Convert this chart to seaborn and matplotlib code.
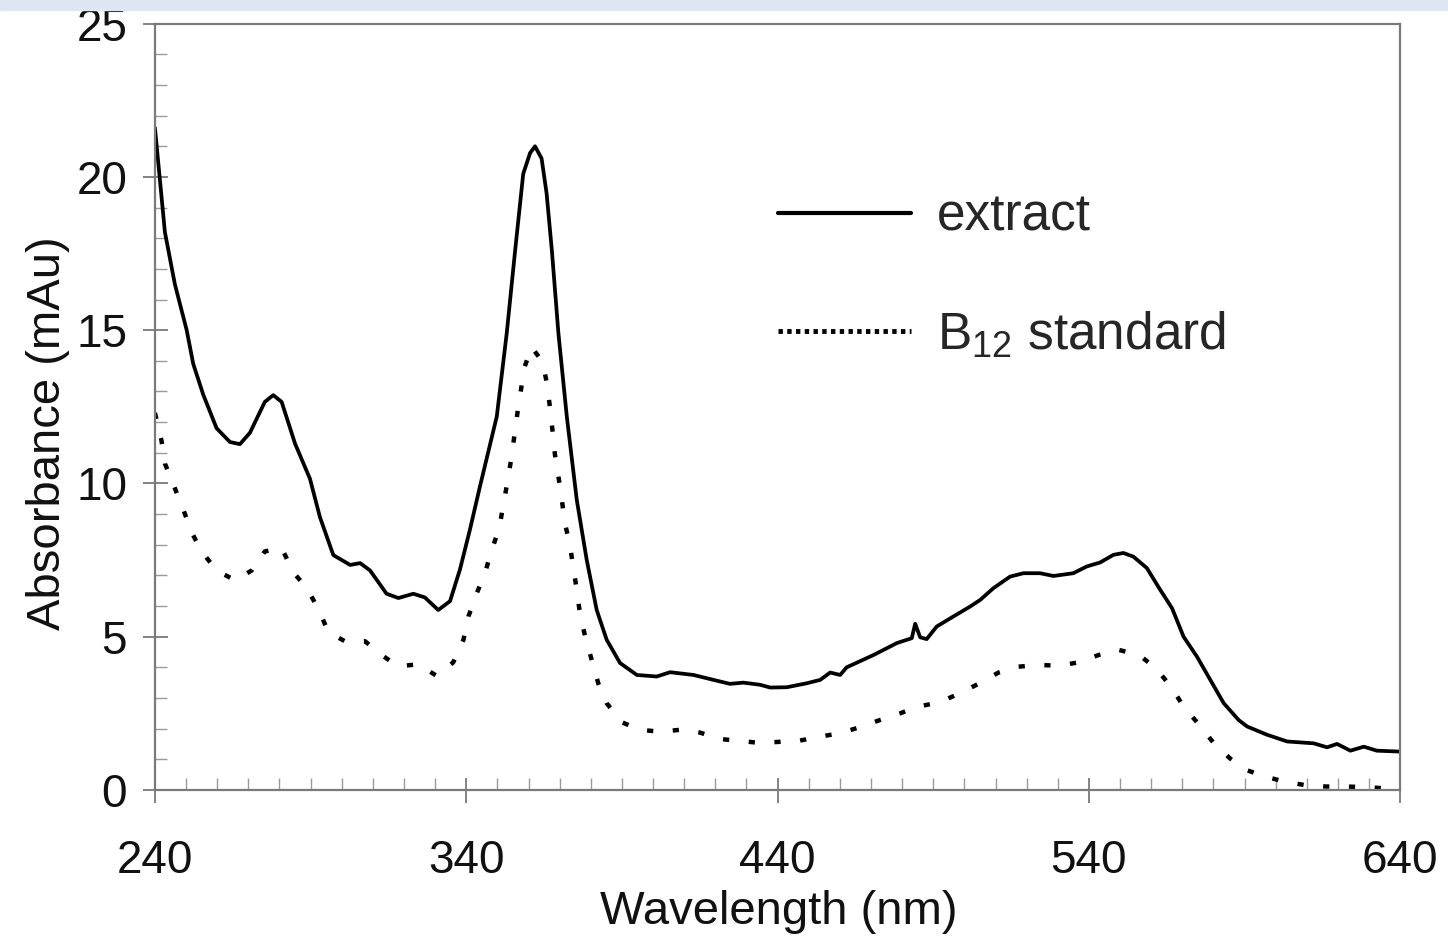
import numpy as np
import pandas as pd
import seaborn as sns
import matplotlib.pyplot as plt
from matplotlib.lines import Line2D
from matplotlib.patches import Rectangle
from matplotlib.ticker import MultipleLocator

extract_wl = [240.0, 243.2, 246.4, 250.2, 252.3, 255.5, 259.8, 264.1, 267.3, 270.5,
              275.3, 278.0, 280.7, 285.0, 289.8, 293.0, 297.3, 302.7, 305.9, 309.1,
              314.4, 318.2, 323.0, 326.7, 331.0, 334.8, 338.0, 341.2, 344.4, 349.8,
              353.0, 355.7, 358.3, 360.5, 362.1, 364.2, 365.8, 367.5, 369.6, 372.3,
              375.5, 378.7, 381.9, 385.1, 389.4, 394.8, 401.2, 405.5, 413.0, 419.4,
              424.7, 429.0, 434.4, 437.6, 443.0, 449.4, 453.7, 456.9, 460.1, 462.2,
              470.8, 478.3, 483.1, 484.2, 485.8, 487.9, 491.1, 496.5, 501.8, 505.1,
              509.3, 514.7, 519.0, 524.3, 528.6, 535.0, 539.3, 543.6, 547.9, 551.1,
              554.3, 558.6, 562.9, 566.7, 570.4, 574.7, 579.0, 583.3, 588.1, 590.8,
              597.2, 603.7, 612.2, 616.5, 619.7, 624.0, 628.3, 632.5, 640.0]
extract_abs = [21.6, 18.2, 16.5, 15.0, 13.9, 12.9, 11.8, 11.35, 11.28, 11.65,
               12.66, 12.88, 12.66, 11.3, 10.15, 8.9, 7.66, 7.34, 7.4, 7.16,
               6.4, 6.26, 6.4, 6.28, 5.87, 6.16, 7.2, 8.5, 9.9, 12.18,
               14.9, 17.6, 20.1, 20.78, 21.0, 20.6, 19.47, 17.6, 14.9, 12.18,
               9.46, 7.5, 5.87, 4.9, 4.14, 3.75, 3.7, 3.84, 3.75, 3.59,
               3.46, 3.5, 3.43, 3.34, 3.35, 3.48, 3.59, 3.83, 3.75, 4.0,
               4.4, 4.79, 4.95, 5.42, 4.98, 4.92, 5.33, 5.66, 5.98, 6.2,
               6.58, 6.96, 7.07, 7.07, 6.98, 7.07, 7.29, 7.42, 7.67, 7.73,
               7.61, 7.24, 6.53, 5.93, 5.0, 4.35, 3.59, 2.83, 2.28, 2.07,
               1.8, 1.58, 1.52, 1.39, 1.5, 1.28, 1.41, 1.28, 1.25]

b12_wl = [240.0, 242.1, 243.2, 245.9, 249.1, 251.8, 255.0, 259.8, 265.7, 271.1,
          275.3, 280.7, 284.4, 288.7, 292.5, 295.7, 301.0, 307.5, 312.8, 318.2,
          324.6, 330.5, 335.8, 339.1, 340.7, 343.4, 346.0, 348.2, 350.6, 351.9,
          353.2, 354.4, 355.4, 356.4, 357.5, 358.6, 361.0, 364.5, 366.0, 366.9,
          367.7, 368.5, 369.6, 370.7, 371.7, 373.3, 374.4, 375.5, 376.5, 378.2,
          380.3, 382.4, 385.1, 389.9, 395.8, 402.2, 408.7, 415.1, 421.5, 428.0,
          434.4, 440.8, 447.2, 453.7, 460.1, 466.5, 472.9, 479.4, 485.2, 491.7,
          498.1, 504.5, 511.0, 517.4, 523.8, 530.2, 536.6, 543.1, 549.5, 556.2,
          561.8, 566.7, 570.4, 575.2, 580.0, 585.3, 590.5, 596.9, 602.8, 609.2,
          616.2, 622.6, 629.0, 635.4, 640.0]
b12_abs = [12.3, 11.4, 10.65, 9.97, 9.15, 8.4, 7.78, 7.16, 6.84, 7.16,
           7.78, 7.9, 7.1, 6.6, 5.9, 5.15, 4.85, 4.85, 4.4, 4.03,
           4.1, 3.72, 4.16, 4.9, 5.66, 6.42, 7.07, 7.83, 8.54, 9.3,
           10.03, 10.77, 11.51, 12.27, 13.0, 13.76, 14.45, 13.96, 13.22, 12.46,
           11.73, 10.93, 10.23, 9.46, 8.7, 7.99, 7.24, 6.53, 5.77, 5.0,
           4.24, 3.48, 2.83, 2.21, 1.96, 1.9, 1.96, 1.87, 1.66, 1.6,
           1.53, 1.57, 1.61, 1.74, 1.85, 2.05, 2.28, 2.5, 2.72, 2.85,
           3.13, 3.46, 3.83, 4.02, 4.08, 4.05, 4.16, 4.4, 4.57, 4.4,
           3.94, 3.32, 2.72, 2.15, 1.54, 1.03, 0.65, 0.43, 0.27, 0.16,
           0.11, 0.11, 0.09, 0.05, 0.03]

x_ticks = [240, 340, 440, 540, 640]
y_ticks = [0, 5, 10, 15, 20, 25]

sns.set_style("ticks")
plt.rcParams['font.family'] = ['Liberation Sans', 'DejaVu Sans']
plt.rcParams['mathtext.fontset'] = 'custom'
plt.rcParams['mathtext.rm'] = 'Liberation Sans'

df_ext = pd.DataFrame({'wavelength': extract_wl, 'absorbance': extract_abs})
df_b12 = pd.DataFrame({'wavelength': b12_wl, 'absorbance': b12_abs})

fig = plt.figure(figsize=(14.48, 9.46), dpi=100)
fig.patches.append(Rectangle((0, 0.989), 1, 0.011, transform=fig.transFigure,
                             color='#dce7f3', zorder=0))
ax = fig.add_axes([0.107, 0.165, 0.860, 0.810])

dot_style = (0, (1.4, 4.4))
sns.lineplot(data=df_ext, x='wavelength', y='absorbance', ax=ax, color='black',
             lw=2.7, estimator=None)
sns.lineplot(data=df_b12, x='wavelength', y='absorbance', ax=ax, color='black',
             lw=3.2, linestyle=dot_style, estimator=None)

ax.set_xlim(240, 640)
ax.set_ylim(0, 25)
ax.set_xticks(x_ticks)
ax.set_yticks(y_ticks)
ax.xaxis.set_minor_locator(MultipleLocator(10))
ax.yaxis.set_minor_locator(MultipleLocator(1))

gray = '#7a7a7a'
for sp in ax.spines.values():
    sp.set_color(gray)
    sp.set_linewidth(1.6)
ax.tick_params(which='major', direction='inout', length=18, width=1.3,
               color=gray, labelsize=33, labelcolor='#111111')
ax.tick_params(axis='x', which='major', pad=26)
ax.tick_params(axis='y', which='major', pad=11)
ax.tick_params(which='minor', direction='in', length=8.5, width=1.0, color='#9a9a9a')

ax.set_xlabel('Wavelength (nm)', fontsize=34, color='#111111')
ax.set_ylabel('Absorbance (mAu)', fontsize=34, color='#111111')
ax.xaxis.set_label_coords(0.501, -0.131)
ax.yaxis.set_label_coords(-0.068, 0.465)

handles = [Line2D([], [], color='black', lw=3.0),
           Line2D([], [], color='black', lw=3.5, linestyle=(0, (0.9, 0.9)))]
ax.legend(handles, ['extract', r'B$_{\mathregular{12}}$ standard'],
          loc='upper left', bbox_to_anchor=(0.5, 0.779), frameon=False,
          fontsize=37, handlelength=2.6, handletextpad=0.5, labelspacing=1.32,
          borderpad=0, borderaxespad=0)

fig.savefig('out.png', dpi=100)
